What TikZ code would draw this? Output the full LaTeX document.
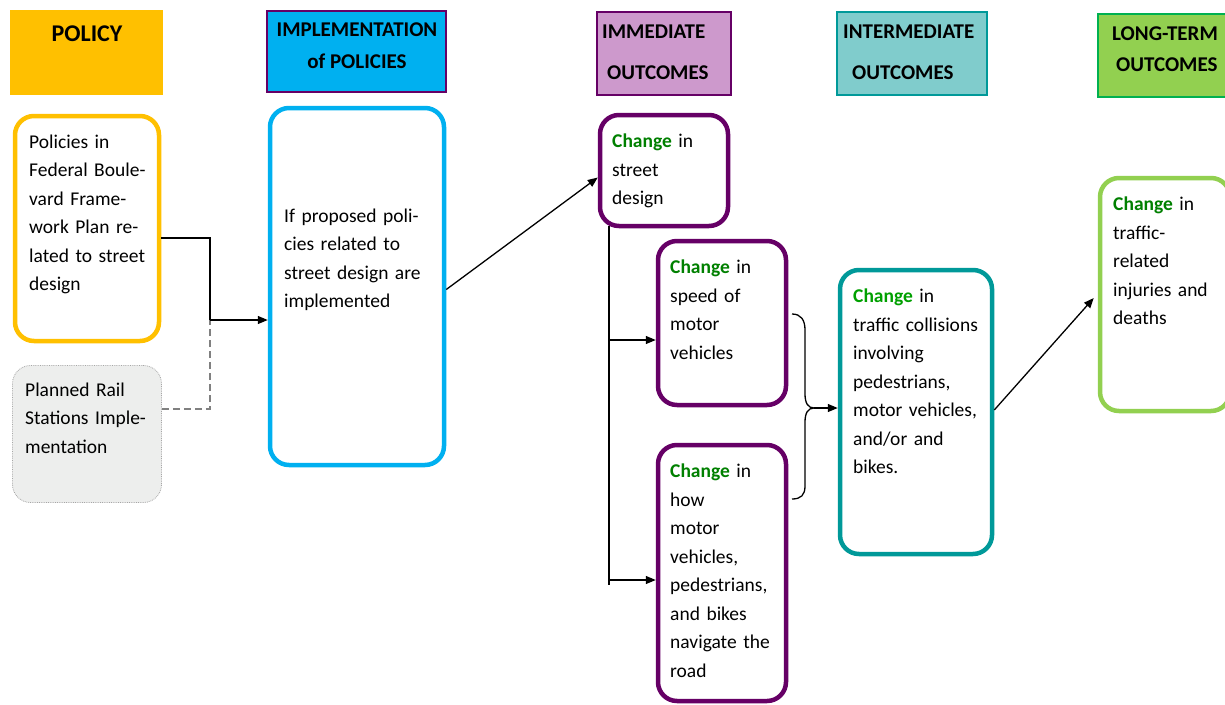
\documentclass[tikz,border=0pt]{standalone}
\usepackage{fontspec}
\setmainfont{Carlito}
\usetikzlibrary{arrows.meta}
\definecolor{yel}{HTML}{FFC000}
\definecolor{sky}{HTML}{00B0F0}
\definecolor{purp}{HTML}{660066}
\definecolor{lilac}{HTML}{CD99CC}
\definecolor{teal1}{HTML}{009999}
\definecolor{teal2}{HTML}{80CCCC}
\definecolor{lgreen}{HTML}{92D050}
\definecolor{dgreen}{HTML}{00B050}
\definecolor{grayfill}{HTML}{EDEEED}
\definecolor{grayline}{HTML}{A6A6A6}
\definecolor{chgreen}{HTML}{008000}
\definecolor{chgreenb}{HTML}{00A000}
\newcommand{\chg}{\textcolor{chgreen}{\textbf{Change}}}
\newcommand{\chgb}{\textcolor{chgreenb}{\textbf{Change}}}
\begin{document}
\begin{tikzpicture}[x=1pt,y=-1pt,
  hdr/.style={rectangle, line width=2pt, inner sep=0},
  bx/.style={rectangle, rounded corners=19pt, line width=4.5pt, inner sep=0, fill=white},
  txt/.style={anchor=base west, inner sep=0, text width=160pt, align=left,
    font=\fontsize{19.5}{28.5}\selectfont},
  htxt/.style={inner sep=0, font=\fontsize{21}{24}\selectfont\bfseries},
  conn/.style={line width=1.3pt, black},
  arr/.style={conn, -{Triangle[length=10pt,width=8pt]}},
  dconn/.style={line width=1.1pt, gray, dash pattern=on 7pt off 4pt}
]
\clip (0,0) rectangle (1225,704);
\fill[white] (0,0) rectangle (1225,704);

% headers
\node[hdr, fill=yel, minimum width=153pt, minimum height=85pt] (hpol) at (86.5,52.5) {};
\node[hdr, fill=sky, draw=purp, minimum width=179pt, minimum height=81pt] (himpl) at (356.5,51.5) {};
\node[hdr, fill=lilac, draw=purp, minimum width=134pt, minimum height=83pt] (himm) at (664,53.5) {};
\node[hdr, fill=teal2, draw=teal1, minimum width=150pt, minimum height=83pt] (hint) at (912,53.5) {};
\node[hdr, fill=lgreen, draw=dgreen, minimum width=134pt, minimum height=83pt] (hlt) at (1165,55.5) {};

\node[htxt, font=\fontsize{24}{26}\selectfont\bfseries] (tpol) at (87,34) {POLICY};
\node[htxt] (timpl1) at (357,30) {IMPLEMENTATION};
\node[htxt] (timpl2) at (357,61) {of POLICIES};
\node[htxt, anchor=west] (timm1) at (602,32) {IMMEDIATE};
\node[htxt, anchor=west] (timm2) at (607,73) {OUTCOMES};
\node[htxt, anchor=west] (tint1) at (843,32) {INTERMEDIATE};
\node[htxt, anchor=west] (tint2) at (852,73) {OUTCOMES};
\node[htxt, anchor=west] (tlt1) at (1112,34) {LONG-TERM};
\node[htxt, anchor=west] (tlt2) at (1116,65) {OUTCOMES};

% boxes
\node[bx, draw=yel, minimum width=144pt, minimum height=225pt] (pol) at (87,228.5) {};
\node[rectangle, rounded corners=18pt, fill=grayfill, draw=grayline, densely dotted, line width=0.8pt,
  minimum width=149pt, minimum height=137pt, inner sep=0] (rail) at (87,434) {};
\node[bx, draw=sky, minimum width=174pt, minimum height=357pt] (impl) at (357,286.5) {};
\node[bx, draw=purp, minimum width=128pt, minimum height=111pt] (sd) at (664,170.5) {};
\node[bx, draw=purp, minimum width=128pt, minimum height=164pt] (spd) at (722,323) {};
\node[bx, draw=purp, minimum width=128pt, minimum height=256pt] (how) at (722,573) {};
\node[bx, draw=teal1, minimum width=152pt, minimum height=284pt] (coll) at (916,412) {};
\node[bx, draw=lgreen, minimum width=130pt, minimum height=233pt] (lt) at (1165,294.5) {};

% texts
\node[txt] (tp) at (29,148) {Policies in\\Federal Boule-\\vard Frame-\\work Plan re-\\lated to street\\design};
\node[txt] (tr) at (25,396) {Planned Rail\\Stations Imple-\\mentation};
\node[txt] (ti) at (284,222) {If proposed poli-\\cies related to\\street design are\\implemented};
\node[txt] (ts) at (612,147.5) {\chg{} in\\street\\design};
\node[txt] (tsp) at (670,273.5) {\chg{} in\\speed of\\motor\\vehicles};
\node[txt] (th) at (670,477.5) {\chg{} in\\how\\motor\\vehicles,\\pedestrians,\\and bikes\\navigate the\\road};
\node[txt] (tc) at (853,302.5) {\chgb{} in\\traffic collisions\\involving\\pedestrians,\\motor vehicles,\\and/or and\\bikes.};
\node[txt] (tl) at (1113,210.5) {\chg{} in\\traffic-\\related\\injuries and\\deaths};

% connectors
\coordinate (j1) at (210,320);
\draw[conn] ([yshift=-9.5pt]pol.east) -| (j1);
\draw[dconn] ([yshift=25pt]rail.east) -| (j1);
\draw[arr] (j1) -- (impl.west |- j1);
\draw[arr] ([yshift=-3pt]impl.east) -- ([yshift=-7pt]sd.west);

\coordinate (vtop) at (609,226);
\coordinate (vbot) at (609,585);
\coordinate (a1) at (609,340);
\coordinate (a2) at (609,580);
\draw[conn] (vtop) -- (vbot);
\draw[arr] (a1) -- (a1 -| spd.west);
\draw[arr] (a2) -- (a2 -| how.west);

\coordinate (bt) at (814,408);
\draw[conn] (792,314) .. controls (801,314) and (805,320) .. (805,330) -- (805,394)
  .. controls (805,403) and (808,408) .. (bt)
  .. controls (808,408) and (805,413) .. (805,422) -- (805,486)
  .. controls (805,495) and (801,499) .. (792,499);
\draw[arr] (bt) -- (bt -| coll.west);
\draw[arr] ([yshift=2pt]coll.east) -- ([yshift=-3.5pt,xshift=-4pt]lt.west);
\end{tikzpicture}
\end{document}
